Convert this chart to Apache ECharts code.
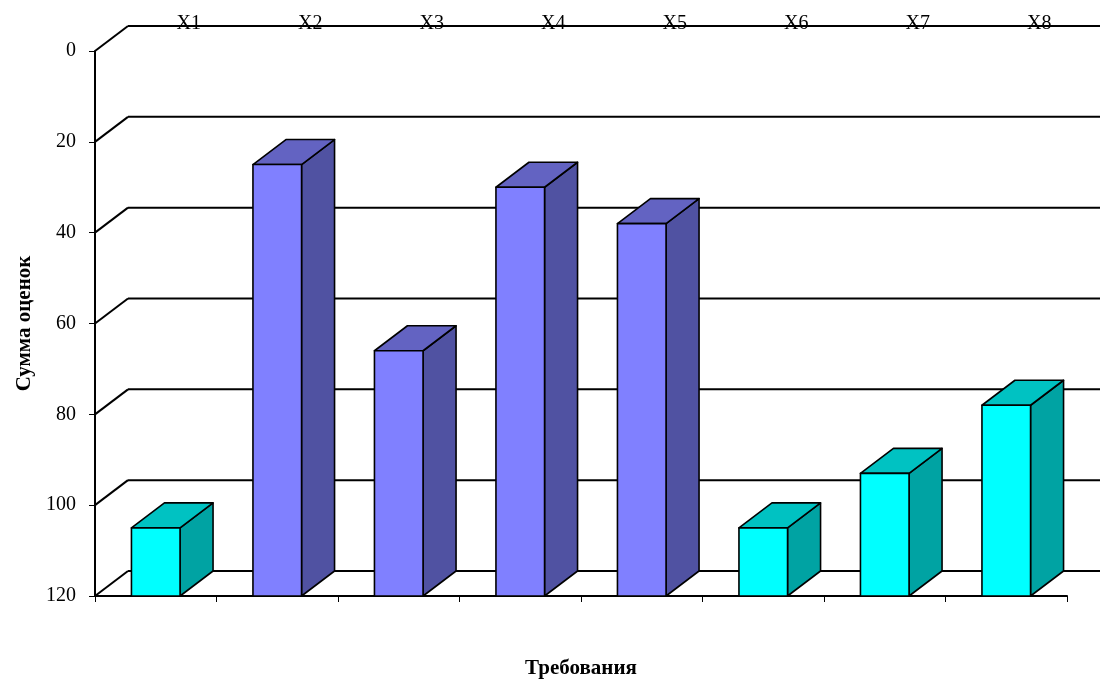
<!DOCTYPE html>
<html>
<head>
<meta charset="utf-8">
<script src="https://cdn.jsdelivr.net/npm/echarts@6/dist/echarts.min.js"></script>
<style>
  html, body { margin: 0; padding: 0; background: #fff; }
  #chart { width: 1100px; height: 680px; }
</style>
</head>
<body>
<div id="chart"></div>
<script>
// Requirements and their score sums
const categories = ['X1', 'X2', 'X3', 'X4', 'X5', 'X6', 'X7', 'X8'];
const scoresCyan = [105, null, null, null, null, 105, 93, 78];
const scoresBlue = [null, 25, 66, 30, 38, null, null, null];
const tickValues = [0, 20, 40, 60, 80, 100, 120];

const Y_MIN = 0, Y_MAX = 120, Y_STEP = 20;
// oblique projection offset for the depth of walls and bars
const DX = 33, DY = -25;
const FONT = "'Liberation Serif', 'Times New Roman', serif";

function toPoints(values) {
  const out = [];
  values.forEach(function (v, i) { if (v != null) out.push([i, v]); });
  return out;
}

function wallItem(params, api) {
  const cs = params.coordSys;
  const y = api.coord([0, api.value(1)])[1];
  const x0 = cs.x, x1 = cs.x + cs.width;
  const style = { stroke: '#000', lineWidth: 2 };
  return {
    type: 'group',
    children: [
      { type: 'line', shape: { x1: x0, y1: y, x2: x0 + DX, y2: y + DY }, style: style },
      { type: 'line', shape: { x1: x0 + DX, y1: y + DY, x2: x1 + DX, y2: y + DY }, style: style }
    ]
  };
}

function barRenderer(front, side, top) {
  return function (params, api) {
    const i = api.value(0);
    const p = api.coord([i, api.value(1)]);
    const b = api.coord([i, Y_MAX]);
    const w = api.size([1, 0])[0] * 0.4;
    const xl = p[0] - w / 2, xr = p[0] + w / 2;
    const yt = p[1], yb = b[1];
    const edge = { stroke: '#000', lineWidth: 1.6, lineJoin: 'round' };
    return {
      type: 'group',
      children: [
        { type: 'polygon', shape: { points: [[xr, yt], [xr + DX, yt + DY], [xr + DX, yb + DY], [xr, yb]] },
          style: Object.assign({ fill: side }, edge) },
        { type: 'polygon', shape: { points: [[xl, yt], [xl + DX, yt + DY], [xr + DX, yt + DY], [xr, yt]] },
          style: Object.assign({ fill: top }, edge) },
        { type: 'polygon', shape: { points: [[xl, yt], [xr, yt], [xr, yb], [xl, yb]] },
          style: Object.assign({ fill: front }, edge) }
      ]
    };
  };
}

const chart = echarts.init(document.getElementById('chart'), null, { renderer: 'canvas' });

chart.setOption({
  backgroundColor: '#fff',
  animation: false,
  grid: { left: 95, right: 33, top: 51, bottom: 84, containLabel: false, outerBoundsMode: 'none' },
  xAxis: [
    {
      type: 'category',
      data: categories,
      position: 'bottom',
      name: 'Требования',
      nameLocation: 'middle',
      nameGap: 62,
      nameTextStyle: { fontFamily: FONT, fontSize: 21, fontWeight: 'bold', color: '#000' },
      axisLine: { show: true, onZero: false, lineStyle: { color: '#000', width: 2 } },
      axisTick: { show: true, length: 6, lineStyle: { color: '#000', width: 1 } },
      axisLabel: { show: false },
      splitLine: { show: false }
    },
    {
      type: 'category',
      data: categories,
      position: 'top',
      offset: 25,
      axisLine: { show: false, onZero: false },
      axisTick: { show: false },
      axisLabel: {
        fontFamily: FONT, fontSize: 20, color: '#000',
        margin: -8,
        padding: [0, 0, 0, 2 * DX]
      },
      splitLine: { show: false }
    }
  ],
  yAxis: {
    type: 'value',
    inverse: true,
    min: Y_MIN,
    max: Y_MAX,
    interval: Y_STEP,
    name: 'Сумма оценок',
    nameLocation: 'middle',
    nameRotate: 90,
    nameGap: 60,
    nameTextStyle: { fontFamily: FONT, fontSize: 21, fontWeight: 'bold', color: '#000' },
    axisLine: { show: true, onZero: false, lineStyle: { color: '#000', width: 2 } },
    axisTick: { show: true, length: 6, lineStyle: { color: '#000', width: 1 } },
    axisLabel: { fontFamily: FONT, fontSize: 20, color: '#000', margin: 19 },
    splitLine: { show: false }
  },
  series: [
    {
      type: 'custom',
      name: 'walls',
      xAxisIndex: 0,
      data: tickValues.map(function (v) { return [0, v]; }),
      renderItem: wallItem,
      silent: true,
      z: 1
    },
    {
      type: 'custom',
      name: 'group A',
      xAxisIndex: 0,
      data: toPoints(scoresCyan),
      renderItem: barRenderer('#00FFFF', '#00A3A3', '#00C2C2'),
      z: 2
    },
    {
      type: 'custom',
      name: 'group B',
      xAxisIndex: 0,
      data: toPoints(scoresBlue),
      renderItem: barRenderer('#8080FF', '#5052A2', '#6363C2'),
      z: 2
    }
  ]
});
</script>
</body>
</html>
